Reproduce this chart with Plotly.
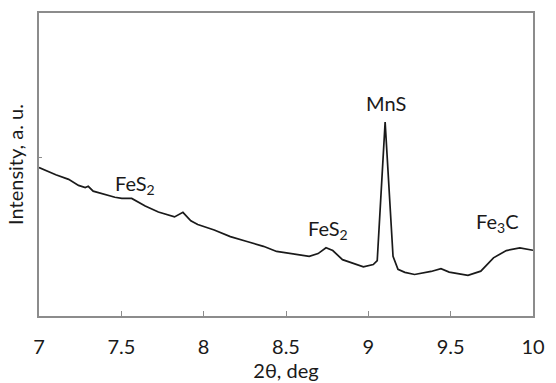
import plotly.graph_objects as go

two_theta = [7.000, 7.102, 7.180, 7.240, 7.281, 7.299, 7.329, 7.401, 7.461, 7.503,
             7.563, 7.645, 7.725, 7.823, 7.874, 7.922, 7.964, 8.064, 8.162, 8.263,
             8.363, 8.443, 8.521, 8.641, 8.695, 8.743, 8.784, 8.843, 8.970, 9.030,
             9.054, 9.102, 9.150, 9.180, 9.222, 9.281, 9.381, 9.441, 9.491, 9.605,
             9.683, 9.760, 9.838, 9.920, 10.000]
intensity = [49.0, 46.6, 45.1, 43.1, 42.4, 42.8, 41.2, 40.1, 39.2, 38.8,
             38.8, 36.3, 34.3, 32.7, 34.2, 31.4, 30.2, 28.4, 26.2, 24.6,
             23.0, 21.3, 20.6, 19.7, 20.6, 22.5, 21.6, 18.6, 16.2, 17.0,
             18.3, 64.0, 19.7, 15.4, 14.4, 13.7, 14.7, 15.6, 14.5, 13.4,
             14.8, 19.2, 21.6, 22.5, 21.7]

peak_labels = ["FeS<sub>2</sub>", "FeS<sub>2</sub>", "MnS", "Fe<sub>3</sub>C"]
peak_x = [7.581, 8.754, 9.108, 9.784]
peak_y = [43.5, 28.4, 70.3, 31.0]

x_ticks = [7, 7.5, 8, 8.5, 9, 9.5, 10]
x_tick_text = ["7", "7.5", "8", "8.5", "9", "9.5", "10"]

FONT = "Lato"
TXT = "#1a1a1a"
fig = go.Figure()
fig.add_trace(go.Scatter(x=two_theta, y=intensity, mode="lines",
                         line=dict(color=TXT, width=1.7), showlegend=False))
for t, x, y in zip(peak_labels, peak_x, peak_y):
    fig.add_annotation(x=x, y=y, text=t, showarrow=False,
                       font=dict(family=FONT, size=20, color=TXT))

fig.update_layout(
    width=556, height=383,
    margin=dict(l=39, r=16, t=11, b=66),
    paper_bgcolor="white", plot_bgcolor="white",
    font=dict(family=FONT, size=20, color=TXT),
    xaxis=dict(range=[7, 10], tickvals=x_ticks, ticktext=x_tick_text,
               ticks="inside", ticklen=5, tickcolor="#8c8c8c", tickwidth=1,
               ticklabelstandoff=12, tickfont=dict(size=20),
               showgrid=False, zeroline=False, showline=True, mirror=True,
               linecolor="#8c8c8c", linewidth=1.5,
               title=dict(text="2θ, deg", standoff=0, font=dict(size=20))),
    yaxis=dict(range=[0, 100], tickvals=[52.3], ticktext=[""],
               ticks="inside", ticklen=3, tickcolor="#8c8c8c",
               showgrid=False, zeroline=False, showline=True, mirror=True,
               linecolor="#8c8c8c", linewidth=1.5,
               title=dict(text="Intensity, a. u.", standoff=4, font=dict(size=20))),
)
fig.write_html("out.html")
